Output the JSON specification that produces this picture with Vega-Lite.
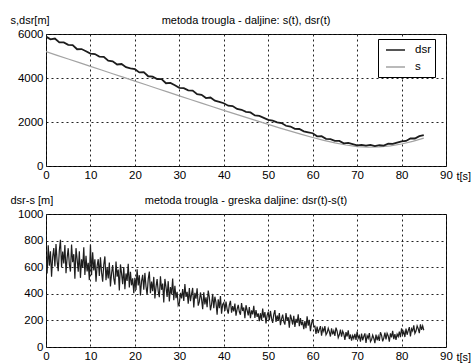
{
  "$schema": "https://vega.github.io/schema/vega-lite/v6.json",
  "autosize": {"type": "pad"},
  "padding": {"left": 9, "top": 13, "right": 0, "bottom": 0},
  "background": "white",
  "datasets": {
    "s": [
      {"t":0,"v":5200},{"t":2.5,"v":5030},{"t":5,"v":4865},{"t":7.5,"v":4700},{"t":10,"v":4530},{"t":12.5,"v":4362},{"t":15,"v":4195},{"t":17.5,"v":4028},{"t":20,"v":3860},{"t":22.5,"v":3692},{"t":25,"v":3525},{"t":27.5,"v":3358},{"t":30,"v":3190},{"t":32.5,"v":3025},{"t":35,"v":2860},{"t":37.5,"v":2695},{"t":40,"v":2530},{"t":42.5,"v":2368},{"t":45,"v":2207},{"t":47.5,"v":2048},{"t":50,"v":1890},{"t":52.5,"v":1735},{"t":55,"v":1585},{"t":57.5,"v":1435},{"t":60,"v":1295},{"t":62.5,"v":1165},{"t":65,"v":1050},{"t":67.5,"v":955},{"t":70,"v":885},{"t":72.5,"v":855},{"t":75,"v":865},{"t":77.5,"v":915},{"t":80,"v":1000},{"t":82.5,"v":1120},{"t":85,"v":1270}
    ],
    "dsr": [
      {"t":0,"v":5880},{"t":1,"v":5757},{"t":2,"v":5794},{"t":3,"v":5622},{"t":4,"v":5621},{"t":5,"v":5510},{"t":6,"v":5499},{"t":7,"v":5308},{"t":8,"v":5316},{"t":9,"v":5218},
      {"t":10,"v":5110},{"t":11,"v":5088},{"t":12,"v":4976},{"t":13,"v":4959},{"t":14,"v":4787},{"t":15,"v":4760},{"t":16,"v":4613},{"t":17,"v":4636},{"t":18,"v":4490},{"t":19,"v":4442},
      {"t":20,"v":4400},{"t":21,"v":4253},{"t":22,"v":4266},{"t":23,"v":4079},{"t":24,"v":4062},{"t":25,"v":3955},{"t":26,"v":3948},{"t":27,"v":3761},{"t":28,"v":3774},{"t":29,"v":3667},
      {"t":30,"v":3550},{"t":31,"v":3539},{"t":32,"v":3438},{"t":33,"v":3427},{"t":34,"v":3261},{"t":35,"v":3235},{"t":36,"v":3089},{"t":37,"v":3113},{"t":38,"v":2967},{"t":39,"v":2916},
      {"t":40,"v":2854},{"t":41,"v":2742},{"t":42,"v":2726},{"t":43,"v":2591},{"t":44,"v":2557},{"t":45,"v":2465},{"t":46,"v":2433},{"t":47,"v":2296},{"t":48,"v":2280},{"t":49,"v":2190},
      {"t":50,"v":2096},{"t":51,"v":2065},{"t":52,"v":1980},{"t":53,"v":1950},{"t":54,"v":1829},{"t":55,"v":1794},{"t":56,"v":1687},{"t":57,"v":1682},{"t":58,"v":1577},{"t":59,"v":1532},
      {"t":60,"v":1489},{"t":61,"v":1350},{"t":62,"v":1352},{"t":63,"v":1232},{"t":64,"v":1217},{"t":65,"v":1146},{"t":66,"v":1142},{"t":67,"v":1033},{"t":68,"v":1049},{"t":69,"v":995},
      {"t":70,"v":936},{"t":71,"v":957},{"t":72,"v":925},{"t":73,"v":958},{"t":74,"v":905},{"t":75,"v":944},{"t":76,"v":927},{"t":77,"v":1012},{"t":78,"v":1002},{"t":79,"v":1061},
      {"t":80,"v":1124},{"t":81,"v":1140},{"t":82,"v":1252},{"t":83,"v":1250},{"t":84,"v":1356},{"t":85,"v":1408}
    ],
    "err": [
      {"t":0,"e":666},{"t":0.25,"e":553},{"t":0.5,"e":765},{"t":0.75,"e":612},{"t":1,"e":720},{"t":1.25,"e":529},{"t":1.5,"e":676},{"t":1.75,"e":744},{"t":2,"e":605},{"t":2.25,"e":775},{"t":2.5,"e":646},{"t":2.75,"e":570},{"t":3,"e":727},{"t":3.25,"e":806},{"t":3.5,"e":600},{"t":3.75,"e":718},{"t":4,"e":628},{"t":4.25,"e":767},{"t":4.5,"e":555},{"t":4.75,"e":669},
      {"t":5,"e":743},{"t":5.25,"e":622},{"t":5.5,"e":567},{"t":5.75,"e":771},{"t":6,"e":637},{"t":6.25,"e":698},{"t":6.5,"e":513},{"t":6.75,"e":743},{"t":7,"e":661},{"t":7.25,"e":566},{"t":7.5,"e":719},{"t":7.75,"e":520},{"t":8,"e":659},{"t":8.25,"e":594},{"t":8.5,"e":750},{"t":8.75,"e":542},{"t":9,"e":685},{"t":9.25,"e":568},{"t":9.5,"e":633},{"t":9.75,"e":503},
      {"t":10,"e":770},{"t":10.25,"e":539},{"t":10.5,"e":712},{"t":10.75,"e":576},{"t":11,"e":660},{"t":11.25,"e":491},{"t":11.5,"e":609},{"t":11.75,"e":660},{"t":12,"e":535},{"t":12.25,"e":674},{"t":12.5,"e":561},{"t":12.75,"e":491},{"t":13,"e":619},{"t":13.25,"e":681},{"t":13.5,"e":502},{"t":13.75,"e":597},{"t":14,"e":516},{"t":14.25,"e":635},{"t":14.5,"e":456},{"t":14.75,"e":553},
      {"t":15,"e":616},{"t":15.25,"e":515},{"t":15.5,"e":468},{"t":15.75,"e":642},{"t":16,"e":529},{"t":16.25,"e":582},{"t":16.5,"e":425},{"t":16.75,"e":621},{"t":17,"e":552},{"t":17.25,"e":473},{"t":17.5,"e":602},{"t":17.75,"e":435},{"t":18,"e":553},{"t":18.25,"e":496},{"t":18.5,"e":625},{"t":18.75,"e":447},{"t":19,"e":565},{"t":19.25,"e":464},{"t":19.5,"e":516},{"t":19.75,"e":404},
      {"t":20,"e":520},{"t":20.25,"e":428},{"t":20.5,"e":585},{"t":20.75,"e":462},{"t":21,"e":540},{"t":21.25,"e":387},{"t":21.5,"e":495},{"t":21.75,"e":542},{"t":22,"e":430},{"t":22.25,"e":557},{"t":22.5,"e":455},{"t":22.75,"e":392},{"t":23,"e":510},{"t":23.25,"e":567},{"t":23.5,"e":405},{"t":23.75,"e":492},{"t":24,"e":420},{"t":24.25,"e":527},{"t":24.5,"e":365},{"t":24.75,"e":452},
      {"t":25,"e":510},{"t":25.25,"e":417},{"t":25.5,"e":375},{"t":25.75,"e":532},{"t":26,"e":430},{"t":26.25,"e":477},{"t":26.5,"e":335},{"t":26.75,"e":512},{"t":27,"e":450},{"t":27.25,"e":377},{"t":27.5,"e":495},{"t":27.75,"e":342},{"t":28,"e":450},{"t":28.25,"e":397},{"t":28.5,"e":515},{"t":28.75,"e":352},{"t":29,"e":460},{"t":29.25,"e":367},{"t":29.5,"e":415},{"t":29.75,"e":312},
      {"t":30,"e":328},{"t":30.25,"e":407},{"t":30.5,"e":365},{"t":30.75,"e":436},{"t":31,"e":347},{"t":31.25,"e":474},{"t":31.5,"e":376},{"t":31.75,"e":415},{"t":32,"e":326},{"t":32.25,"e":443},{"t":32.5,"e":345},{"t":32.75,"e":398},{"t":33,"e":444},{"t":33.25,"e":297},{"t":33.5,"e":407},{"t":33.75,"e":364},{"t":34,"e":442},{"t":34.25,"e":311},{"t":34.5,"e":341},{"t":34.75,"e":410},
      {"t":35,"e":360},{"t":35.25,"e":285},{"t":35.5,"e":411},{"t":35.75,"e":320},{"t":36,"e":374},{"t":36.25,"e":299},{"t":36.5,"e":425},{"t":36.75,"e":374},{"t":37,"e":276},{"t":37.25,"e":321},{"t":37.5,"e":399},{"t":37.75,"e":292},{"t":38,"e":378},{"t":38.25,"e":334},{"t":38.5,"e":242},{"t":38.75,"e":359},{"t":39,"e":291},{"t":39.25,"e":383},{"t":39.5,"e":251},{"t":39.75,"e":320},
      {"t":40,"e":333},{"t":40.25,"e":271},{"t":40.5,"e":341},{"t":40.75,"e":285},{"t":41,"e":251},{"t":41.25,"e":316},{"t":41.5,"e":347},{"t":41.75,"e":258},{"t":42,"e":307},{"t":42.25,"e":267},{"t":42.5,"e":326},{"t":42.75,"e":236},{"t":43,"e":285},{"t":43.25,"e":317},{"t":43.5,"e":265},{"t":43.75,"e":242},{"t":44,"e":330},{"t":44.25,"e":271},{"t":44.5,"e":297},{"t":44.75,"e":217},
      {"t":45,"e":314},{"t":45.25,"e":278},{"t":45.5,"e":237},{"t":45.75,"e":301},{"t":46,"e":216},{"t":46.25,"e":275},{"t":46.5,"e":245},{"t":46.75,"e":309},{"t":47,"e":219},{"t":47.25,"e":278},{"t":47.5,"e":226},{"t":47.75,"e":253},{"t":48,"e":195},{"t":48.25,"e":254},{"t":48.5,"e":202},{"t":48.75,"e":289},{"t":49,"e":220},{"t":49.25,"e":263},{"t":49.5,"e":178},{"t":49.75,"e":238},
      {"t":50,"e":263},{"t":50.25,"e":201},{"t":50.5,"e":271},{"t":50.75,"e":215},{"t":51,"e":181},{"t":51.25,"e":246},{"t":51.5,"e":277},{"t":51.75,"e":188},{"t":52,"e":237},{"t":52.25,"e":196},{"t":52.5,"e":255},{"t":52.75,"e":164},{"t":53,"e":212},{"t":53.25,"e":243},{"t":53.5,"e":191},{"t":53.75,"e":168},{"t":54,"e":255},{"t":54.25,"e":198},{"t":54.5,"e":224},{"t":54.75,"e":146},
      {"t":55,"e":244},{"t":55.25,"e":210},{"t":55.5,"e":169},{"t":55.75,"e":235},{"t":56,"e":151},{"t":56.25,"e":211},{"t":56.5,"e":181},{"t":56.75,"e":246},{"t":57,"e":157},{"t":57.25,"e":217},{"t":57.5,"e":165},{"t":57.75,"e":192},{"t":58,"e":135},{"t":58.25,"e":194},{"t":58.5,"e":142},{"t":58.75,"e":230},{"t":59,"e":161},{"t":59.25,"e":204},{"t":59.5,"e":119},{"t":59.75,"e":178},
      {"t":60,"e":210},{"t":60.25,"e":152},{"t":60.5,"e":157},{"t":60.75,"e":98},{"t":61,"e":153},{"t":61.25,"e":105},{"t":61.5,"e":133},{"t":61.75,"e":157},{"t":62,"e":85},{"t":62.25,"e":140},{"t":62.5,"e":118},{"t":62.75,"e":157},{"t":63,"e":92},{"t":63.25,"e":107},{"t":63.5,"e":141},{"t":63.75,"e":116},{"t":64,"e":79},{"t":64.25,"e":141},{"t":64.5,"e":95},{"t":64.75,"e":122},
      {"t":65,"e":84},{"t":65.25,"e":146},{"t":65.5,"e":120},{"t":65.75,"e":70},{"t":66,"e":92},{"t":66.25,"e":131},{"t":66.5,"e":77},{"t":66.75,"e":120},{"t":67,"e":99},{"t":67.25,"e":54},{"t":67.5,"e":112},{"t":67.75,"e":79},{"t":68,"e":126},{"t":68.25,"e":60},{"t":68.5,"e":94},{"t":68.75,"e":48},{"t":69,"e":86},{"t":69.25,"e":64},{"t":69.5,"e":98},{"t":69.75,"e":53},
      {"t":70,"e":115},{"t":70.25,"e":66},{"t":70.5,"e":85},{"t":70.75,"e":41},{"t":71,"e":100},{"t":71.25,"e":51},{"t":71.5,"e":79},{"t":71.75,"e":102},{"t":72,"e":30},{"t":72.25,"e":85},{"t":72.5,"e":65},{"t":72.75,"e":104},{"t":73,"e":40},{"t":73.25,"e":55},{"t":73.5,"e":90},{"t":73.75,"e":66},{"t":74,"e":29},{"t":74.25,"e":94},{"t":74.5,"e":51},{"t":74.75,"e":81},
      {"t":75,"e":46},{"t":75.25,"e":111},{"t":75.5,"e":88},{"t":75.75,"e":42},{"t":76,"e":67},{"t":76.25,"e":108},{"t":76.5,"e":57},{"t":76.75,"e":103},{"t":77,"e":84},{"t":77.25,"e":41},{"t":77.5,"e":102},{"t":77.75,"e":72},{"t":78,"e":121},{"t":78.25,"e":59},{"t":78.5,"e":96},{"t":78.75,"e":54},{"t":79,"e":96},{"t":79.25,"e":78},{"t":79.5,"e":116},{"t":79.75,"e":74},
      {"t":80,"e":140},{"t":80.25,"e":94},{"t":80.5,"e":117},{"t":80.75,"e":75},{"t":81,"e":138},{"t":81.25,"e":92},{"t":81.5,"e":123},{"t":81.75,"e":149},{"t":82,"e":80},{"t":82.25,"e":138},{"t":82.5,"e":121},{"t":82.75,"e":163},{"t":83,"e":102},{"t":83.25,"e":120},{"t":83.5,"e":159},{"t":83.75,"e":137},{"t":84,"e":104},{"t":84.25,"e":170},{"t":84.5,"e":129},{"t":84.75,"e":159},{"t":85,"e":126}
    ]
  },
  "vconcat": [
    {
      "width": 400,
      "height": 132,
      "title": {"text": "metoda trougla - daljine: s(t), dsr(t)", "frame": "group", "offset": -12},
      "layer": [
        {
          "data": {"name": "s"},
          "mark": {"type": "line", "strokeWidth": 1.2, "clip": true},
          "encoding": {
            "x": {"field": "t", "type": "quantitative", "scale": {"domain": [0, 90]}, "axis": {"values": [0,10,20,30,40,50,60,70,80,90], "format": "d", "title": "t[s]", "titleX": 410, "titleY": 10, "titleAlign": "left", "titleBaseline": "middle"}},
            "y": {"field": "v", "type": "quantitative", "scale": {"domain": [0, 6000]}, "axis": {"values": [0,2000,4000,6000], "format": "d", "title": "s,dsr[m]", "titleX": -36, "titleY": -11, "titleAngle": 0, "titleAlign": "left", "titleBaseline": "alphabetic"}},
            "color": {"datum": "s", "type": "nominal", "scale": {"domain": ["dsr", "s"], "range": ["#1c1c1c", "#a3a3a3"]}, "legend": {"title": null, "orient": "none", "legendX": 332, "legendY": 5}}
          }
        },
        {
          "data": {"name": "dsr"},
          "mark": {"type": "line", "strokeWidth": 1.8, "clip": true},
          "encoding": {
            "x": {"field": "t", "type": "quantitative"},
            "y": {"field": "v", "type": "quantitative"},
            "color": {"datum": "dsr", "type": "nominal"}
          }
        }
      ]
    },
    {
      "width": 400,
      "height": 133,
      "title": {"text": "metoda trougla - greska daljine: dsr(t)-s(t)", "frame": "group", "offset": -12},
      "data": {"name": "err"},
      "mark": {"type": "line", "strokeWidth": 1.2, "color": "#1e1e1e", "clip": true},
      "encoding": {
        "x": {"field": "t", "type": "quantitative", "scale": {"domain": [0, 90]}, "axis": {"values": [0,10,20,30,40,50,60,70,80,90], "format": "d", "title": "t[s]", "titleX": 410, "titleY": 10, "titleAlign": "left", "titleBaseline": "middle"}},
        "y": {"field": "e", "type": "quantitative", "scale": {"domain": [0, 1000]}, "axis": {"values": [0,200,400,600,800,1000], "format": "d", "title": "dsr-s [m]", "titleX": -36, "titleY": -11, "titleAngle": 0, "titleAlign": "left", "titleBaseline": "alphabetic"}}
      }
    }
  ],
  "bounds": "flush",
  "spacing": 48,
  "config": {
    "font": "Liberation Sans",
    "view": {"stroke": "black", "strokeWidth": 1},
    "title": {"fontSize": 11, "fontWeight": "normal", "color": "black", "anchor": "middle", "baseline": "bottom"},
    "axis": {
      "grid": true,
      "gridColor": "#222222",
      "gridDash": [2, 3],
      "gridOpacity": 1,
      "gridWidth": 1,
      "domain": false,
      "ticks": false,
      "labelPadding": 3,
      "labelFontSize": 11.5,
      "labelColor": "black",
      "labelOverlap": false,
      "labelFlush": false,
      "titleFontSize": 11,
      "titleFontWeight": "normal",
      "titleColor": "black"
    },
    "legend": {
      "symbolType": "M-0.5,0H2.67",
      "symbolSize": 144,
      "symbolStrokeWidth": 1.5,
      "symbolFillColor": "transparent",
      "labelFontSize": 11.5,
      "labelOffset": 19,
      "labelColor": "black",
      "fillColor": "white",
      "strokeColor": "black",
      "padding": 4,
      "rowPadding": 4
    }
  }
}
